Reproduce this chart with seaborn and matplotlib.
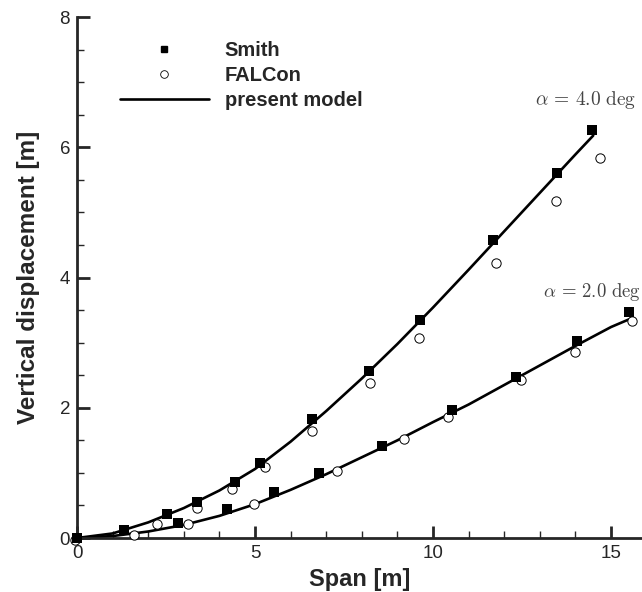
import numpy as np
import pandas as pd
import matplotlib
matplotlib.use("Agg")
import matplotlib.pyplot as plt
from matplotlib.ticker import MultipleLocator
from matplotlib.lines import Line2D
import seaborn as sns

# Smith reference points
smith_x_a4 = [0.0, 1.32, 2.53, 3.37, 4.44, 5.14, 6.6, 8.2, 9.63, 11.69, 13.48, 14.47]
smith_y_a4 = [0.0, 0.12, 0.37, 0.55, 0.86, 1.15, 1.83, 2.57, 3.35, 4.58, 5.6, 6.26]
smith_x_a2 = [2.84, 4.2, 5.53, 6.8, 8.57, 10.53, 12.33, 14.04, 15.5]
smith_y_a2 = [0.23, 0.44, 0.70, 1.0, 1.42, 1.97, 2.47, 3.03, 3.47]

# FALCon points
falcon_x_a4 = [-0.05, 2.25, 3.37, 4.36, 5.28, 6.6, 8.23, 9.6, 11.77, 13.45, 14.7]
falcon_y_a4 = [-0.03, 0.21, 0.46, 0.75, 1.09, 1.65, 2.38, 3.07, 4.23, 5.17, 5.84]
falcon_x_a2 = [1.6, 3.12, 4.97, 7.3, 9.19, 10.42, 12.47, 13.99, 15.59]
falcon_y_a2 = [0.05, 0.21, 0.52, 1.03, 1.52, 1.86, 2.43, 2.86, 3.33]

# present model curves
model_x_a4 = [0, 1, 2, 3, 4, 5, 6, 7, 8, 9, 10, 11, 12, 13, 14, 14.5]
model_y_a4 = [0, 0.07, 0.24, 0.46, 0.73, 1.06, 1.48, 1.95, 2.45, 2.98, 3.54, 4.12, 4.71, 5.30, 5.89, 6.18]
model_x_a2 = [0, 1, 2, 3, 4, 5, 6, 7, 8, 9, 10, 11, 12, 13, 14, 15, 15.6]
model_y_a2 = [0, 0.03, 0.1, 0.2, 0.34, 0.52, 0.74, 0.98, 1.24, 1.5, 1.78, 2.05, 2.35, 2.65, 2.95, 3.24, 3.38]

smith = pd.DataFrame({"x": smith_x_a4 + smith_x_a2, "y": smith_y_a4 + smith_y_a2})
falcon = pd.DataFrame({"x": falcon_x_a4 + falcon_x_a2, "y": falcon_y_a4 + falcon_y_a2})
model = pd.DataFrame({
    "x": model_x_a4 + model_x_a2,
    "y": model_y_a4 + model_y_a2,
    "alpha": ["4"] * len(model_x_a4) + ["2"] * len(model_x_a2),
})

sns.set_style("ticks")
plt.rcParams["font.family"] = ["Liberation Sans", "DejaVu Sans"]
plt.rcParams["mathtext.fontset"] = "cm"

fig = plt.figure(figsize=(6.42, 5.92), dpi=100)
ax = fig.add_axes([0.12, 0.0912, 0.88, 0.88])

sns.lineplot(data=model, x="x", y="y", units="alpha", estimator=None, sort=False,
             color="black", linewidth=1.9, ax=ax, legend=False)
sns.scatterplot(data=falcon, x="x", y="y", marker="o", s=45, facecolor="white",
                edgecolor="black", linewidth=0.7, ax=ax, zorder=3, clip_on=False)
sns.scatterplot(data=smith, x="x", y="y", marker="s", s=42, color="black",
                edgecolor="black", linewidth=0, ax=ax, zorder=4, clip_on=False)

ax.set_xlim(0, 15.87)
ax.set_ylim(0, 8)
ax.xaxis.set_major_locator(MultipleLocator(5))
ax.xaxis.set_minor_locator(MultipleLocator(1))
ax.yaxis.set_major_locator(MultipleLocator(2))
ax.yaxis.set_minor_locator(MultipleLocator(0.5))
ax.tick_params(which="major", direction="in", length=9, width=2, labelsize=13.5, pad=5)
ax.tick_params(which="minor", direction="in", length=5, width=1)
for s in ["top", "right"]:
    ax.spines[s].set_visible(False)
for s in ["left", "bottom"]:
    ax.spines[s].set_linewidth(2)

ax.set_xlabel("Span [m]", fontsize=17, fontweight="bold", labelpad=4)
ax.set_ylabel("Vertical displacement [m]", fontsize=17.5, fontweight="bold", labelpad=14)

ax.text(12.87, 6.72, r"$\alpha\,=\,4.0\ \mathrm{deg}$", fontsize=14, color="#444444",
        va="center", ha="left", clip_on=False)
ax.text(13.08, 3.78, r"$\alpha\,=\,2.0\ \mathrm{deg}$", fontsize=13.5, color="#444444",
        va="center", ha="left", clip_on=False)

handles = [
    Line2D([], [], linestyle="none", marker="s", markersize=5, color="black"),
    Line2D([], [], linestyle="none", marker="o", markersize=5.5, markerfacecolor="white",
           markeredgecolor="black", markeredgewidth=0.6),
    Line2D([], [], color="black", linewidth=1.9),
]
ax.legend(handles, ["Smith", "FALCon", "present model"], loc="upper left",
          bbox_to_anchor=(0.076, 0.954), frameon=False, borderpad=0, borderaxespad=0,
          handlelength=4.4, handletextpad=0.8, labelspacing=0.3,
          prop={"weight": "bold", "size": 14.5})

fig.savefig("out.png", dpi=100)
